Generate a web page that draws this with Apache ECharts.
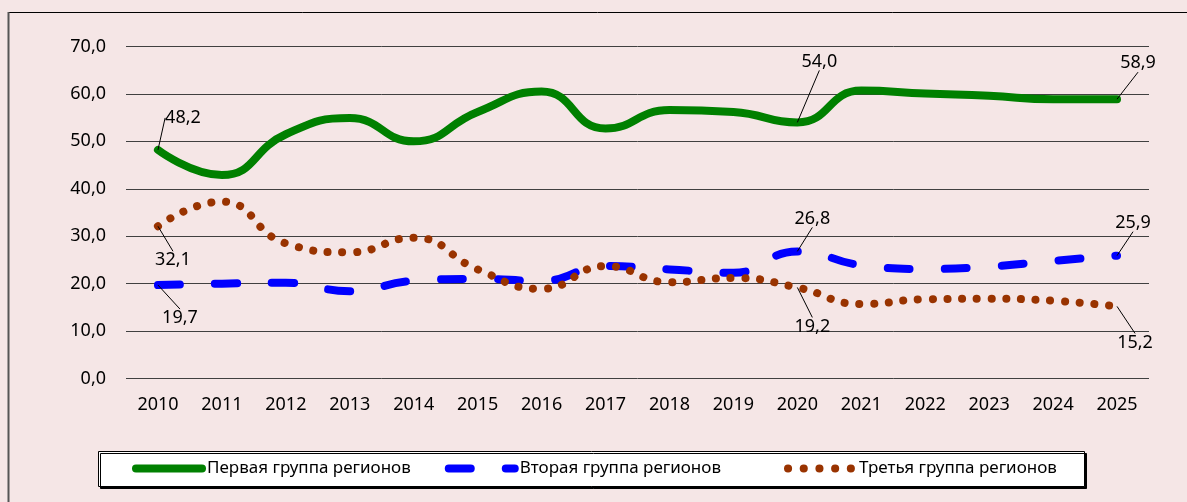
<!DOCTYPE html>
<html>
<head>
<meta charset="utf-8">
<script src="https://cdn.jsdelivr.net/npm/echarts@6/dist/echarts.min.js"></script>
<style>
  html, body { margin: 0; padding: 0; background: #f5e6e6; }
  #chart { width: 1187px; height: 502px; }
</style>
</head>
<body>
<div id="chart"></div>
<script>
// данные графика
const years = ["2010", "2011", "2012", "2013", "2014", "2015", "2016", "2017",
  "2018", "2019", "2020", "2021", "2022", "2023", "2024", "2025"];
const firstGroup = [48.2, 42.9, 51.5, 54.9, 50.0, 56.2, 60.5, 52.7,
  56.6, 56.2, 54.0, 60.7, 60.1, 59.6, 58.9, 58.9];
const secondGroup = [19.7, 20.0, 20.2, 18.4, 20.6, 21.0, 20.6, 23.7,
  23.0, 22.3, 26.8, 23.9, 23.1, 23.6, 24.8, 25.9];
const thirdGroup = [32.1, 37.3, 28.5, 26.6, 29.7, 23.0, 18.9, 23.7,
  20.3, 21.2, 19.2, 15.7, 16.7, 16.8, 16.4, 15.2];
const seriesNames = ["Первая группа регионов", "Вторая группа регионов", "Третья группа регионов"];
const labelledIdx = [0, 10, 15];

// смещения подписей (dx, dy) для 2010, 2020, 2025
const labelShift = [
  [[25, -32], [22, -61], [21, -36]],
  [[22, 33], [15, -33], [16, -33]],
  [[15, 34], [15, 39], [18, 36]]
];

const FONT = "Noto Sans";
const fmt = (v) => v.toFixed(1).replace(".", ",");

const styles = [
  { color: "#008000", width: 8, type: "solid" },
  { color: "#0000ff", width: 8, type: [22, 35] },
  { color: "#993300", width: 8, type: [0.1, 15.6] }
];

function buildData(values) {
  return values.map((v, i) => ({
    value: v,
    label: { show: labelledIdx.includes(i) }
  }));
}

function makeSeries(idx, values) {
  const st = styles[idx];
  return {
    name: seriesNames[idx],
    type: "line",
    smooth: 0.5,
    symbol: "circle",
    symbolSize: 0.01,
    showSymbol: true,
    showAllSymbol: true,
    data: buildData(values),
    lineStyle: { color: st.color, width: st.width, type: idx === 2 ? [0.1, 14.6] : st.type, cap: "round", join: "round" },
    itemStyle: { color: st.color },
    label: {
      show: false,
      position: "inside",
      formatter: (p) => fmt(p.value),
      color: "#000",
      fontFamily: FONT,
      fontSize: 18
    },
    labelLine: { show: true, minTurnAngle: 179, lineStyle: { color: "#000", width: 1 } },
    labelLayout: (p) => {
      const k = labelledIdx.indexOf(p.dataIndex);
      if (k < 0) return {};
      return { dx: labelShift[idx][k][0], dy: labelShift[idx][k][1] };
    },
    emphasis: { disabled: true }
  };
}

function legendPart(names, left) {
  return {
    left: left,
    top: 460,
    padding: 0,
    itemWidth: 66,
    itemHeight: 18,
    itemGap: 34,
    itemStyle: { opacity: 0 },
    textStyle: { fontFamily: FONT, fontSize: 17, color: "#000" },
    data: names.map((name) => {
      const st = styles[seriesNames.indexOf(name)];
      return {
        name: name,
        lineStyle: { color: st.color, width: st.width, type: st.type, cap: "round" }
      };
    })
  };
}

const chart = echarts.init(document.getElementById("chart"));

chart.setOption({
  backgroundColor: "#f5e6e6",
  animation: false,
  graphic: [
    { type: "line", shape: { x1: 8, y1: 12.5, x2: 1187, y2: 12.5 }, style: { stroke: "#000", lineWidth: 1 } },
    { type: "line", shape: { x1: 8.5, y1: 12, x2: 8.5, y2: 502 }, style: { stroke: "#555", lineWidth: 2 } },
    // рамка легенды
    {
      type: "rect",
      z: -1,
      shape: { x: 98.5, y: 451.5, width: 986, height: 35 },
      style: {
        fill: "#fff", stroke: "#000", lineWidth: 1,
        shadowColor: "#000", shadowBlur: 0, shadowOffsetX: 2, shadowOffsetY: 2
      }
    }
  ],
  grid: { left: 126, right: 38, top: 46.5, bottom: 123.5 },
  legend: [
    legendPart(seriesNames.slice(0, 2), 132),
    legendPart(seriesNames.slice(2), 784)
  ],
  xAxis: {
    type: "category",
    data: years,
    boundaryGap: true,
    axisLine: { show: false },
    axisTick: { show: false },
    axisLabel: { fontFamily: FONT, fontSize: 18, color: "#000", margin: 17 }
  },
  yAxis: {
    type: "value",
    min: 0,
    max: 70,
    interval: 10,
    axisLine: { show: false },
    axisTick: { show: false },
    axisLabel: { fontFamily: FONT, fontSize: 18, color: "#000", margin: 20, formatter: fmt },
    splitLine: { lineStyle: { color: "#404040", width: 1 } }
  },
  series: [
    makeSeries(0, firstGroup),
    makeSeries(1, secondGroup),
    makeSeries(2, thirdGroup)
  ]
});
</script>
</body>
</html>
